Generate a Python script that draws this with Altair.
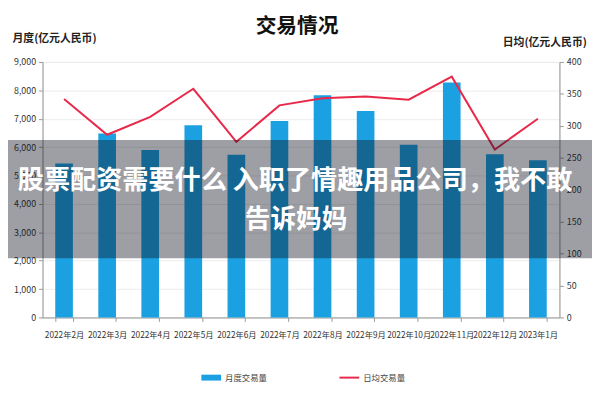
import altair as alt
import pandas as pd

months = ["2022年2月", "2022年3月", "2022年4月", "2022年5月", "2022年6月", "2022年7月",
          "2022年8月", "2022年9月", "2022年10月", "2022年11月", "2022年12月", "2023年1月"]
monthly_volume = [5420, 6480, 5900, 6770, 5730, 6920, 7830, 7270, 6080, 8280, 5750, 5540]
daily_volume = [342, 286, 314, 358, 275, 332, 343, 346, 341, 377, 263, 311]

title_text = "交易情况"
left_title = "月度(亿元人民币)"
right_title = "日均(亿元人民币)"
series_names = ["月度交易量", "日均交易量"]
banner_lines = ["股票配资需要什么 入职了情趣用品公司，我不敢", "告诉妈妈"]

BLUE = "#1ba1e2"
RED = "#e8294a"
CJK = "Noto Sans CJK SC"

df = pd.DataFrame({"month": months, "monthly": monthly_volume, "daily": daily_volume})

W, H = 524, 259

xenc = alt.X("month:N", sort=months, title=None,
             scale=alt.Scale(paddingInner=0.59, paddingOuter=0.295),
             axis=alt.Axis(labelAngle=0, labelFont=CJK, labelFontSize=8.4, labelColor="#333",
                           labelOverlap=False, tickBand="extent", tickColor="#999", tickSize=4,
                           domainColor="#999", labelPadding=9))

base = alt.Chart(df)

bars = base.mark_bar().transform_calculate(s1="'月度交易量'").encode(
    x=xenc,
    y=alt.Y("monthly:Q", scale=alt.Scale(domain=[0, 9000], nice=False),
            axis=alt.Axis(values=list(range(0, 9001, 1000)), format=",d", title=left_title,
                          titleAngle=0, titleX=-31, titleY=-24, titleAlign="left",
                          titleBaseline="middle", titleFont=CJK, titleFontSize=11,
                          titleFontWeight="bold", titleColor="#222",
                          labelFont=CJK, labelFontSize=9, labelColor="#333",
                          gridColor="#ececec", domainColor="#999", tickColor="#999",
                          tickSize=4, labelPadding=3)),
    color=alt.Color("s1:N", scale=alt.Scale(domain=[series_names[0]], range=[BLUE]),
                    legend=alt.Legend(orient="none", legendX=160, legendY=309, title=None,
                                      symbolType="M-1,-0.3H1V0.3H-1Z", symbolSize=400,
                                      labelFont=CJK, labelFontSize=8.5, labelColor="#444",
                                      labelOffset=3)),
)

line = base.mark_line(strokeWidth=2).transform_calculate(s2="'日均交易量'").encode(
    x=alt.X("month:N", sort=months),
    y=alt.Y("daily:Q", scale=alt.Scale(domain=[0, 400], nice=False),
            axis=alt.Axis(orient="right", values=list(range(0, 401, 50)), grid=False,
                          title=right_title, titleAngle=0, titleX=-58, titleY=-20,
                          titleAlign="left", titleBaseline="middle", titleFont=CJK,
                          titleFontSize=11, titleFontWeight="bold", titleColor="#222",
                          labelFont=CJK, labelFontSize=9, labelColor="#333",
                          domainColor="#999", tickColor="#999", tickSize=4, labelPadding=3)),
    stroke=alt.Stroke("s2:N", scale=alt.Scale(domain=[series_names[1]], range=[RED]),
                      legend=alt.Legend(orient="none", legendX=300, legendY=309, title=None,
                                        symbolType="stroke", symbolSize=400, symbolStrokeWidth=2,
                                        labelFont=CJK, labelFontSize=8.5, labelColor="#444",
                                        labelOffset=3)),
)

one = pd.DataFrame({"k": [0]})
banner = alt.Chart(one).mark_rect(color="#0a0f1e", opacity=0.4).encode(
    x=alt.value(-43), x2=alt.value(557), y=alt.value(79), y2=alt.value(199))
banner_t1 = alt.Chart(one).mark_text(font=CJK, fontSize=26.5, fontWeight="bold", color="white",
                                     align="center", baseline="middle").encode(
    x=alt.value(256), y=alt.value(121), text=alt.value(banner_lines[0]))
banner_t2 = alt.Chart(one).mark_text(font=CJK, fontSize=26, fontWeight="bold", color="white",
                                     align="center", baseline="middle").encode(
    x=alt.value(257), y=alt.value(160), text=alt.value(banner_lines[1]))

chart = alt.layer(bars, line, banner, banner_t1, banner_t2).resolve_scale(
    y="independent"
).properties(
    width=W, height=H,
    title=alt.TitleParams(title_text, font=CJK, fontSize=21, fontWeight="bold", color="#111",
                          anchor="middle", offset=22, dx=-4, dy=27),
    autosize=alt.AutoSizeParams(type="none"),
    padding={"left": 35, "top": 52, "right": 33, "bottom": 81},
).configure_view(stroke=None).configure(background="white")

chart.save("out.html", embed_options={"renderer": "svg", "actions": False})
